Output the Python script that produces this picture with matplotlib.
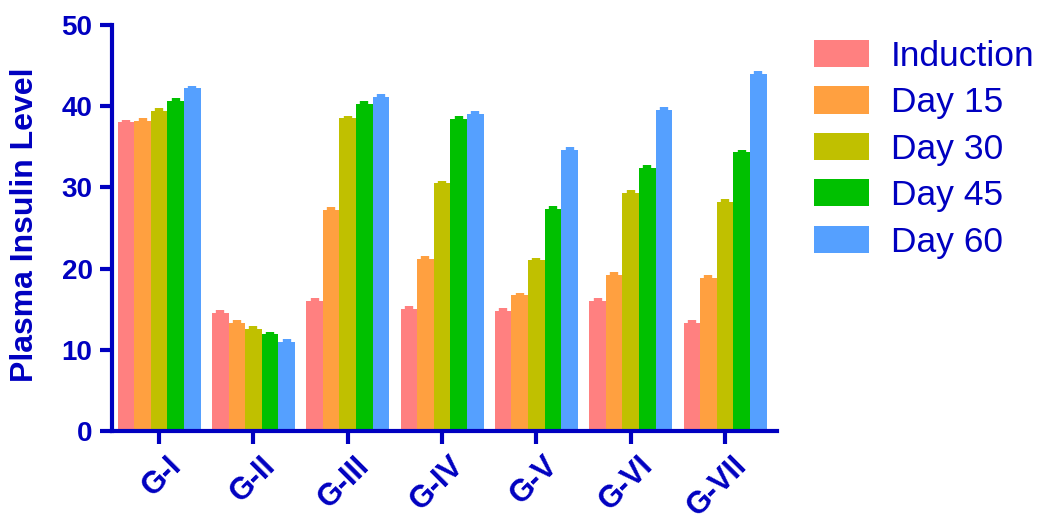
import matplotlib.pyplot as plt
import matplotlib.transforms as mtransforms
import numpy as np

plt.rcParams['font.family'] = ['Liberation Sans', 'DejaVu Sans']

# Plasma insulin level per group at each time point
groups = ['G-I', 'G-II', 'G-III', 'G-IV', 'G-V', 'G-VI', 'G-VII']
series_names = ['Induction', 'Day 15', 'Day 30', 'Day 45', 'Day 60']
induction = [38.0, 14.5, 16.0, 15.0, 14.8, 16.0, 13.3]
day15 = [38.2, 13.3, 27.2, 21.2, 16.7, 19.2, 18.9]
day30 = [39.4, 12.6, 38.5, 30.5, 21.0, 29.3, 28.2]
day45 = [40.6, 11.9, 40.3, 38.4, 27.3, 32.4, 34.3]
day60 = [42.2, 11.0, 41.1, 39.0, 34.6, 39.5, 44.0]
sem = 0.35

colors = ['#FF8080', '#FFA040', '#C0C000', '#00C000', '#55A0FF']
text_color = '#0000C0'

fig = plt.figure(figsize=(10.4, 5.21), dpi=100)
ax = fig.add_axes([0.1077, 0.1727, 0.6393, 0.7793])

x = np.arange(len(groups))
width = 0.176
all_series = [induction, day15, day30, day45, day60]
for i, (vals, name, c) in enumerate(zip(all_series, series_names, colors)):
    pos = x + (i - 2) * width
    ax.bar(pos, vals, width=width, color=c, label=name, zorder=2)
    ax.errorbar(pos, vals, yerr=sem, fmt='none', ecolor=c, elinewidth=6,
                capsize=0, zorder=2)

ax.set_xlim(-0.5, 6.55)
ax.set_ylim(0, 50)
ax.set_yticks([0, 10, 20, 30, 40, 50])
ax.set_xticks(x)
ax.set_xticklabels(groups, rotation=45, ha='right', rotation_mode='anchor')

for side in ['top', 'right']:
    ax.spines[side].set_visible(False)
for side in ['left', 'bottom']:
    ax.spines[side].set_color(text_color)
    ax.spines[side].set_linewidth(3)

ax.tick_params(axis='both', colors=text_color, width=3, length=9, pad=5)
ax.tick_params(axis='y', labelsize=20)
ax.tick_params(axis='x', labelsize=22, pad=5)

# nudge the slanted group labels a little to the right
shift = mtransforms.ScaledTranslation(7 / 100, 0, fig.dpi_scale_trans)
for lbl in ax.get_xticklabels():
    lbl.set_transform(lbl.get_transform() + shift)
for lbl in ax.get_xticklabels() + ax.get_yticklabels():
    lbl.set_fontweight('bold')
    lbl.set_color(text_color)

ax.set_ylabel('Plasma Insulin Level', fontsize=23, fontweight='bold',
              color=text_color)
ax.yaxis.set_label_coords(-0.108, 0.507)

leg = ax.legend(loc='upper left', bbox_to_anchor=(1.008, 1.042), frameon=False,
                fontsize=25.5, handlelength=1.55, handleheight=0.8,
                labelspacing=0.38, handletextpad=0.62)
for t in leg.get_texts():
    t.set_color(text_color)

plt.savefig('out.png', dpi=100)
plt.close()
